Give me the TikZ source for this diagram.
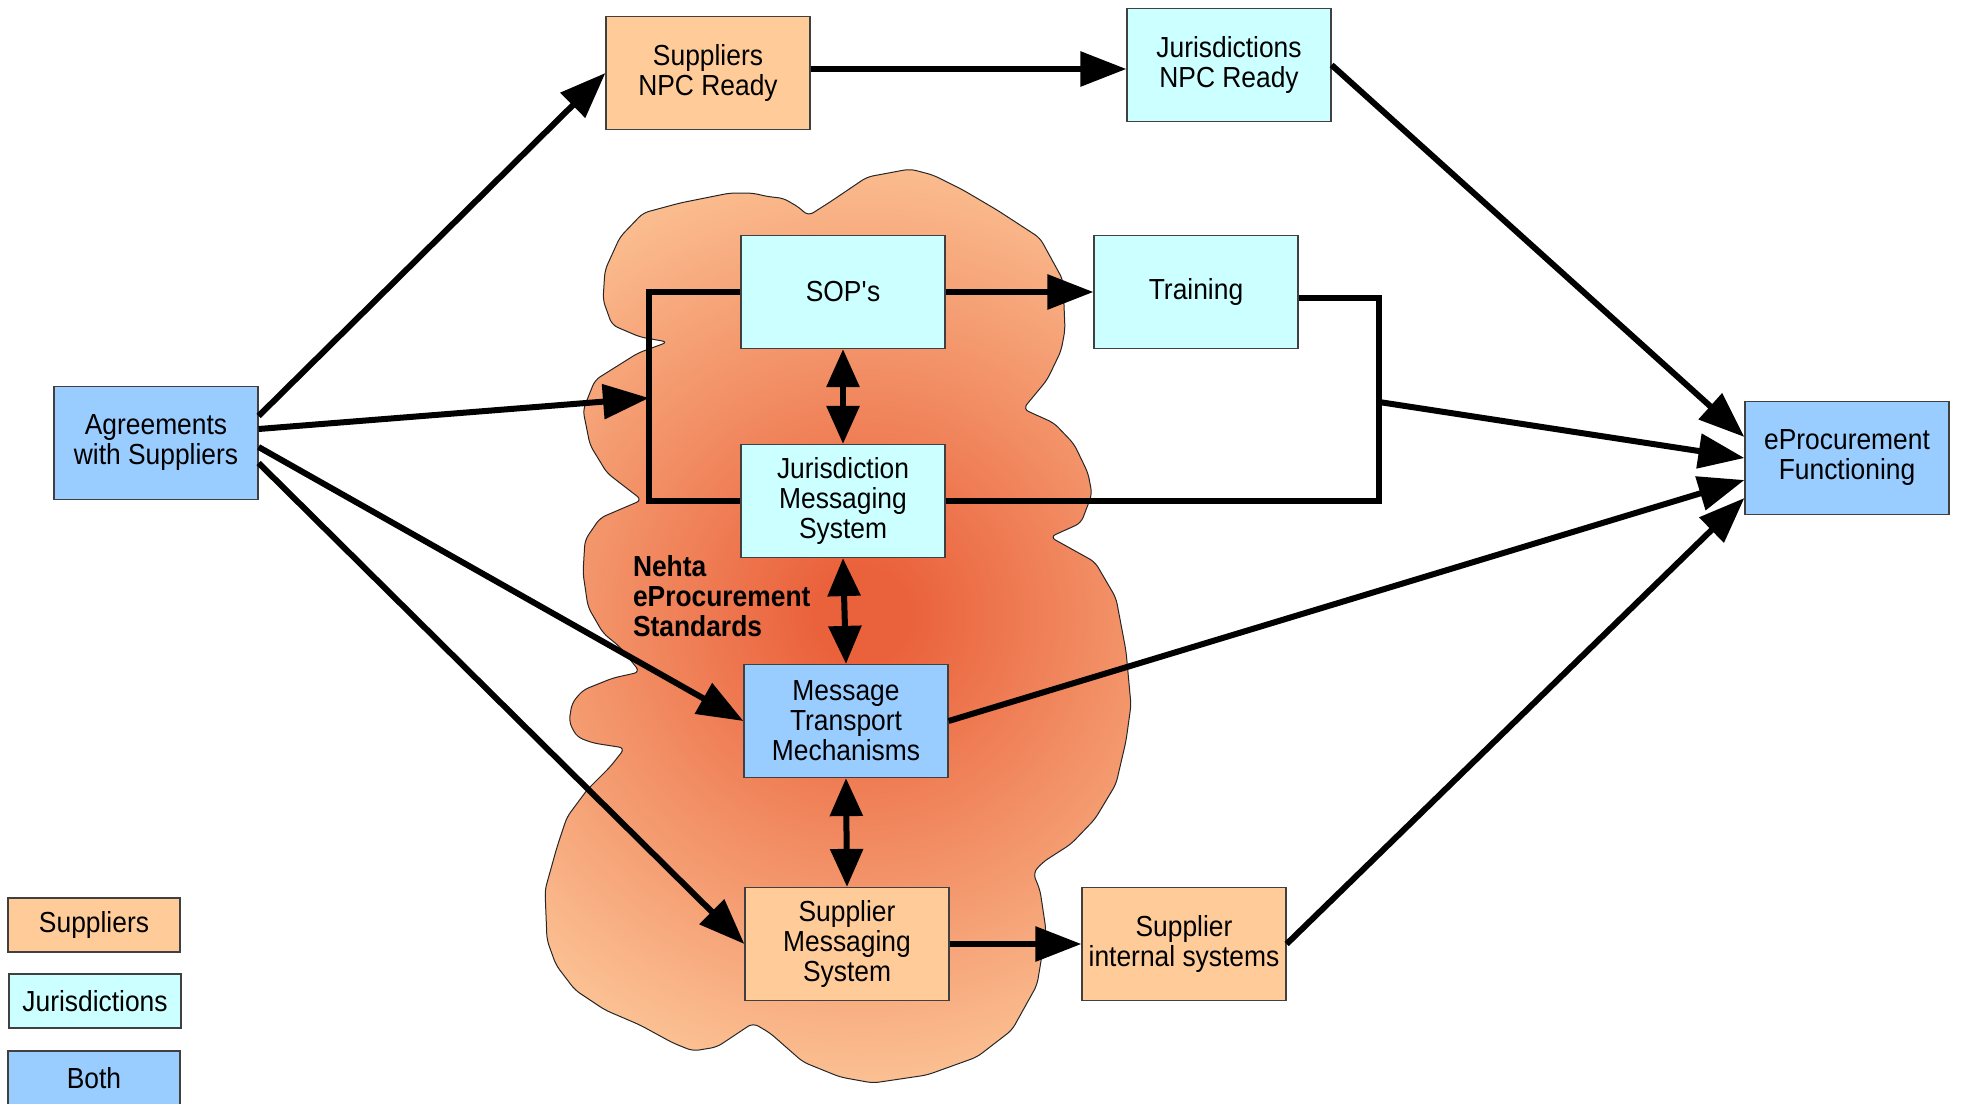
\documentclass[tikz,border=0pt]{standalone}
\usepackage{fontspec}
\setmainfont{Liberation Sans}[FakeStretch=0.91]
\usepackage{tikz}
\usetikzlibrary{arrows.meta,calc}
\definecolor{supcol}{RGB}{255,204,153}
\definecolor{jurcol}{RGB}{204,255,255}
\definecolor{bothcol}{RGB}{153,204,255}
\definecolor{cloudin}{RGB}{234,98,60}
\definecolor{cloudout}{RGB}{251,192,146}
\pgfdeclareradialshading{cloudshade}{\pgfpoint{0bp}{0bp}}{color(0bp)=(cloudin); color(2bp)=(cloudin); color(19.5bp)=(cloudout); color(50bp)=(cloudout)}

\begin{document}
\begin{tikzpicture}[x = 0.5pt, y = -0.5pt, line width = 3pt,
    box/.style = {rectangle, draw = black!75, line width = 0.6pt, minimum width = 102pt, minimum height = 56.5pt, align = center, inner sep = 2pt, font = \fontsize{14.5}{15}\selectfont},
    sup/.style = {box, fill = supcol},
    jur/.style = {box, fill = jurcol},
    both/.style = {box, fill = bothcol},
    key/.style = {minimum width = 86pt, minimum height = 27pt},
    link/.style = {-{Triangle[length = 23pt, width = 17pt]}},
    twoway/.style = {{Triangle[length = 19pt, width = 16pt]}-{Triangle[length = 19pt, width = 16pt]}}]
\useasboundingbox (0,0) rectangle (1963,1103);
% standards cloud
\draw[draw = black!85, line width = 0.5pt, rounded corners = 3pt,
    path picture = {\shade[shading = cloudshade] (862,615) circle (600);}]
    (910,169) -- (933,175) -- (963,190) -- (997,210) -- (1040,238) -- (1063,280) -- (1065,330)
    -- (1061,351) -- (1047,380) -- (1023,409) -- (1054,423) -- (1074,444) -- (1088,473)
    -- (1092,494) -- (1081,523) -- (1050,537) -- (1095,562) -- (1116,598) -- (1126,651)
    -- (1131,705) -- (1126,741) -- (1116,784) -- (1095,819) -- (1071,844) -- (1043,862)
    -- (1033,873) -- (1040,890) -- (1046,930) -- (1040,967) -- (1037,985) -- (1012,1030)
    -- (977,1057) -- (927,1075) -- (873,1083) -- (840,1077) -- (803,1062) -- (770,1033)
    -- (753,1023) -- (717,1047) -- (693,1051) -- (673,1043) -- (640,1025) -- (605,1010)
    -- (575,990) -- (556,965) -- (547,940) -- (545,890) -- (557,847) -- (567,817)
    -- (587,790) -- (610,767) -- (625,748) -- (593,743) -- (577,737) -- (569,722)
    -- (572,703) -- (583,690) -- (613,678) -- (640,672) -- (620,647) -- (603,633)
    -- (588,607) -- (583,573) -- (585,540) -- (600,518) -- (642,500) -- (607,473)
    -- (590,445) -- (583,410) -- (595,380) -- (638,353) -- (668,342) -- (640,337)
    -- (612,325) -- (603,300) -- (605,270) -- (620,237) -- (643,213) -- (680,203)
    -- (730,193) -- (752,193) -- (770,197) -- (783,198) -- (800,208) -- (808,216)
    -- (830,202) -- (867,177) -- cycle;
\draw (708,73) node[sup](snr){Suppliers\\NPC Ready}
    (1229,65) node[jur](jnr){Jurisdictions\\NPC Ready}
    (156,443) node[both](agr){Agreements\\with Suppliers}
    (843,292) node[jur](sop){SOP\textquotesingle s}
    (1196,292) node[jur](trn){Training}
    (843,501) node[jur](jms){Jurisdiction\\Messaging\\System}
    (846,721) node[both](mtm){Message\\Transport\\Mechanisms}
    (847,944) node[sup](sms){Supplier\\Messaging\\System}
    (1184,944) node[sup](sis){Supplier\\internal systems}
    (1847,458) node[both](epf){eProcurement\\Functioning};
\node[font = \bfseries\fontsize{14.5}{15}\selectfont, align = left, anchor = west, inner sep = 0pt] (nehta) at (630,596) {Nehta\\eProcurement\\Standards};
% legend
\draw (94,925) node[sup, key](keysup){Suppliers}
    (95,1001) node[jur, key](keyjur){Jurisdictions}
    (94,1078) node[both, key](keyboth){Both};
\coordinate (lbr) at (649,398);
\coordinate (rbr) at (1379,402);
\draw[link] ($(agr.east)+(0,-27)$) -- (snr.west);
\draw[link] ($(agr.east)+(0,-14)$) -- (lbr);
\draw[link] ($(agr.east)+(0,4)$) -- (mtm.west);
\draw[link] ($(agr.east)+(0,20)$) -- (sms.west);
\draw[link] ($(snr.east)+(0,-4)$) -- ($(snr.east -| jnr.west)+(0,-4)$);
\draw[link] (jnr.east) -- ($(epf.west)+(0,-21)$);
\draw[link] (sop.east) -- (trn.west);
\draw (sop.west) -| (lbr) |- (jms.west);
\draw ([yshift = -3pt]trn.east) -| (rbr) |- (jms.east);
\draw[link] (rbr) -- (epf.west);
\draw[link] (mtm.east) -- ($(epf.west)+(0,22)$);
\draw[link] (sis.east) -- ($(epf.west)+(0,40)$);
\draw[link] (sms.east) -- (sis.west);
\draw[twoway] (sop.south) -- (jms.north);
\draw[twoway] (jms.south) -- (mtm.north);
\draw[twoway] (mtm.south) -- (sms.north);
\end{tikzpicture}
\end{document}
